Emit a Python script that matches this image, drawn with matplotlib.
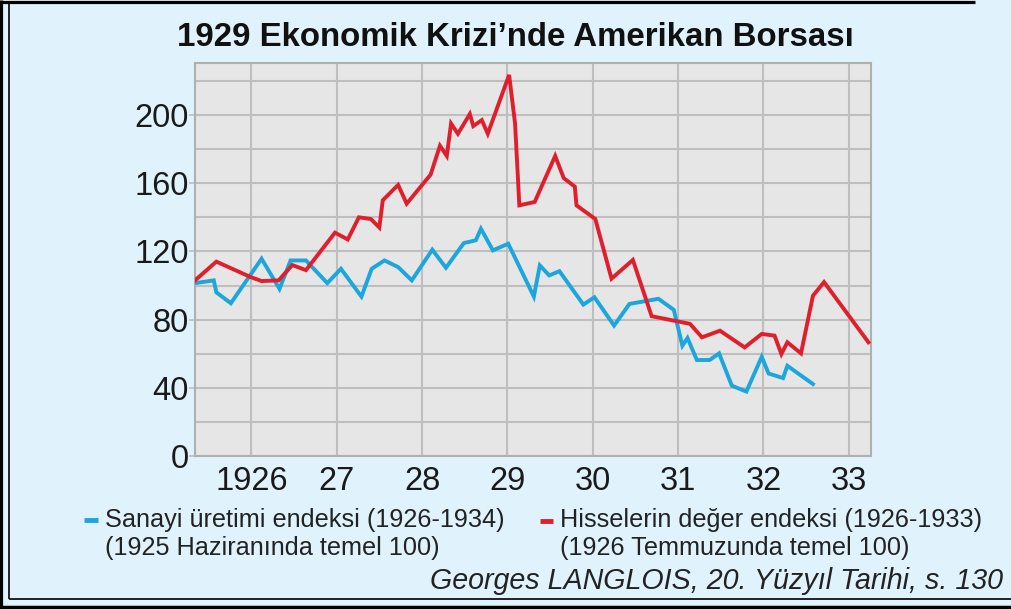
import matplotlib
matplotlib.use("Agg")
import matplotlib.pyplot as plt
from matplotlib.lines import Line2D
from matplotlib.ticker import MultipleLocator, FixedLocator

plt.rcParams['font.family'] = ['Liberation Sans', 'DejaVu Sans']

title = "1929 Ekonomik Krizi’nde Amerikan Borsası"

# Stock value index (Hisselerin değer endeksi)
stock_x = [1925.34, 1925.59, 1925.99, 1926.12, 1926.32, 1926.48, 1926.64, 1926.98,
           1927.13, 1927.26, 1927.40, 1927.50, 1927.54, 1927.72, 1927.82, 1928.10,
           1928.21, 1928.29, 1928.34, 1928.42, 1928.56, 1928.60, 1928.70, 1928.77,
           1929.02, 1929.09, 1929.14, 1929.32, 1929.56, 1929.66, 1929.79, 1929.81,
           1930.03, 1930.22, 1930.47, 1930.69, 1931.14, 1931.28, 1931.49, 1931.78,
           1931.98, 1932.13, 1932.21, 1932.28, 1932.44, 1932.58, 1932.71, 1933.23]
stock_y = [103, 114, 105, 102.6, 103, 112, 109, 131,
           127, 140, 139, 134, 150, 159, 148, 165,
           182, 176, 195, 189, 200.6, 193.5, 197, 189,
           223.5, 195, 147, 149, 176, 163, 158, 147,
           139, 104, 115, 82, 77.5, 69.6, 73.5, 63.7,
           71.6, 70.6, 59.8, 66.7, 60.2, 94, 102, 66.7]

# Industrial production index (Sanayi üretimi endeksi)
ind_x = [1925.34, 1925.56, 1925.59, 1925.76, 1926.12, 1926.33, 1926.46, 1926.64,
         1926.89, 1927.05, 1927.29, 1927.41, 1927.56, 1927.72, 1927.88, 1928.12,
         1928.28, 1928.49, 1928.63, 1928.69, 1928.83, 1929.01, 1929.31, 1929.38,
         1929.49, 1929.61, 1929.89, 1930.02, 1930.25, 1930.43, 1930.77, 1930.95,
         1931.05, 1931.11, 1931.22, 1931.37, 1931.48, 1931.63, 1931.80, 1931.98,
         1932.06, 1932.23, 1932.28, 1932.58]
ind_y = [101.4, 103, 96, 89.6, 115.7, 98, 114.7, 114.7,
         101.4, 109.8, 93.5, 109.8, 114.7, 110.8, 103, 121,
         110.4, 124.9, 126.5, 133.3, 120.6, 124.5, 93.5, 111.8,
         105.9, 108.4, 88.8, 93.1, 76.5, 89.2, 92.2, 85.7,
         64.7, 69.2, 56.3, 56.3, 60.2, 41.2, 37.8, 58.2,
         48.4, 45.7, 52.9, 42.2]

x_ticks = [1926, 1927, 1928, 1929, 1930, 1931, 1932, 1933]
x_labels = ["1926", "27", "28", "29", "30", "31", "32", "33"]
y_ticks = [0, 40, 80, 120, 160, 200]

legend1 = ["Sanayi üretimi endeksi (1926-1934)", "(1925 Haziranında temel 100)"]
legend2 = ["Hisselerin değer endeksi (1926-1933)", "(1926 Temmuzunda temel 100)"]
source = "Georges LANGLOIS, 20. Yüzyıl Tarihi, s. 130"

BLUE = "#1ba6dc"
RED = "#e01f2d"
BG = "#e0f3fd"
GRID = "#bebebe"

W, H = 1012, 609
fig = plt.figure(figsize=(W / 100, H / 100), dpi=100, facecolor=BG)
ax = fig.add_axes([195 / W, 1 - 456 / H, (871 - 195) / W, (456 - 63) / H])
ax.set_facecolor("#e6e6e6")

ax.plot(ind_x, ind_y, color=BLUE, lw=2.8, solid_joinstyle='miter', zorder=3)
ax.plot(stock_x, stock_y, color=RED, lw=2.8, solid_joinstyle='miter', zorder=4)

ax.set_xlim(1925.34, 1933.26)
ax.set_ylim(0, 230.5)
ax.xaxis.set_major_locator(FixedLocator(x_ticks))
ax.set_xticklabels(x_labels)
ax.yaxis.set_major_locator(FixedLocator(y_ticks))
ax.yaxis.set_minor_locator(MultipleLocator(20))
ax.grid(True, which='both', color=GRID, lw=1.5, zorder=1)
ax.set_axisbelow(True)
for s in ax.spines.values():
    s.set_color("#b0b0b0")
    s.set_linewidth(1.5)
ax.tick_params(axis='x', length=0, pad=7, labelsize=23.5, colors="#1a1a1a")
ax.tick_params(axis='y', which='major', length=4, width=1.2, color=GRID, pad=0.5,
               labelsize=23.5, labelcolor="#1a1a1a")
ax.tick_params(axis='y', which='minor', length=0)

fig.text(515 / W, 1 - 37 / H, title, ha='center', va='center',
         fontsize=23.8, fontweight='bold', color="#111111")

# Legend
fig.add_artist(Line2D([84 / W, 98 / W], [1 - 520 / H, 1 - 520 / H],
                      color=BLUE, lw=3.5, solid_capstyle='butt'))
fig.add_artist(Line2D([540 / W, 553 / W], [1 - 521 / H, 1 - 521 / H],
                      color=RED, lw=3.5, solid_capstyle='butt'))
fs = 18.2
fig.text(105 / W, 1 - 520 / H, legend1[0], ha='left', va='center', fontsize=fs, color="#222222")
fig.text(105 / W, 1 - 548 / H, legend1[1], ha='left', va='center', fontsize=fs, color="#222222")
fig.text(560 / W, 1 - 520 / H, legend2[0], ha='left', va='center', fontsize=fs, color="#222222")
fig.text(560 / W, 1 - 548 / H, legend2[1], ha='left', va='center', fontsize=fs, color="#222222")
fig.text(1003 / W, 1 - 581 / H, source, ha='right', va='center', fontsize=20.6,
         style='italic', color="#222222")

# Frame
def fline(x0, y0, x1, y1, lw):
    fig.add_artist(Line2D([x0 / W, x1 / W], [1 - y0 / H, 1 - y1 / H],
                          color='black', lw=lw, solid_capstyle='butt'))

fline(0, 1.5, 975, 1.5, 2.3)      # top thick
fline(1.5, 0, 1.5, 609, 2.3)      # left thick
fline(0, 606.5, 1012, 606.5, 2.5) # bottom thick
fline(9.5, 3, 9.5, 599, 1.2)      # left thin
fline(9, 598.5, 1012, 598.5, 1.2) # bottom thin

fig.savefig("out.png", dpi=100, facecolor=BG)
